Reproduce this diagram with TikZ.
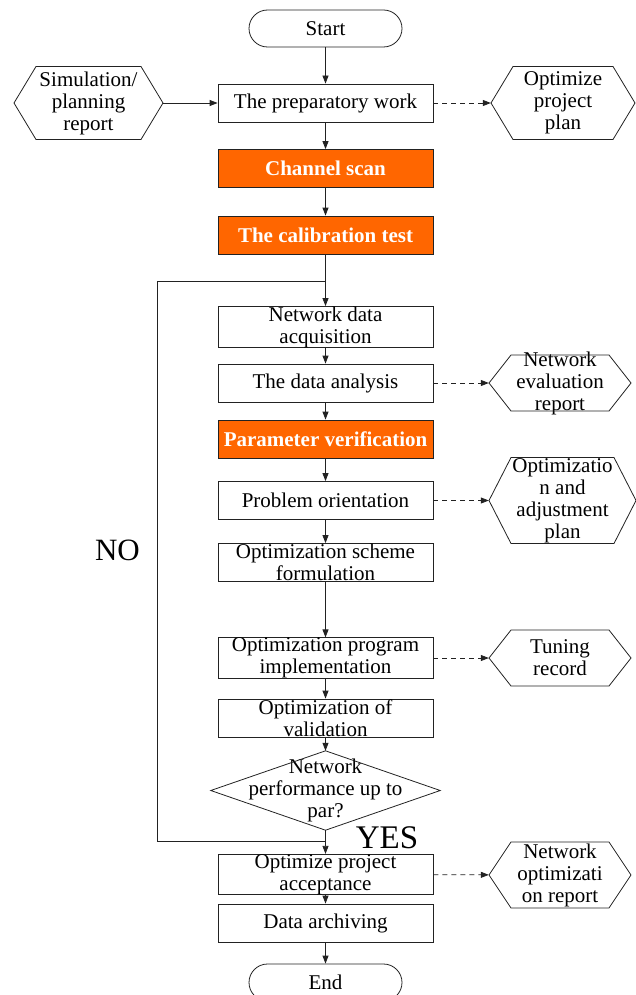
\documentclass[tikz,border=0pt]{standalone}
\usepackage{fontspec}
\setmainfont{Liberation Serif}
\usetikzlibrary{arrows.meta}
\definecolor{orng}{HTML}{FF6600}
\definecolor{ink}{HTML}{222222}
\newcommand\hexat[3]{\draw[edge] ([xshift=-#2/2]#1.center) -- ++(22,-#3/2) -- ++(#2-44,0) -- ++(22,#3/2) -- ++(-22,#3/2) -- ++(-#2+44,0) -- cycle;}
\begin{document}
\begin{tikzpicture}[x=1pt,y=-1pt,
  base/.style={inner sep=0pt, align=center, font=\fontsize{21}{22}\selectfont, text=black},
  edge/.style={draw=ink, line width=0.8pt},
  box/.style={base, edge, minimum width=215pt, minimum height=38pt, fill=white},
  hot/.style={box, fill=orng, text=white, font=\fontsize{21}{22}\selectfont\bfseries},
  term/.style={base, edge, minimum width=153pt, minimum height=37pt, rounded corners=18.5pt},
  ghost/.style={base},
  arr/.style={edge, -{Triangle[length=8pt,width=6pt]}},
  darr/.style={arr, dash pattern=on 5pt off 4pt},
  big/.style={inner sep=0pt, text=black}
]
\useasboundingbox (0,0) rectangle (636,995);
\clip (0,0) rectangle (636,995);
% main column
\node[term] (start) at (325.5,28.5) {Start};
\node[box] (prep) at (325.5,103) {The preparatory work};
\node[hot] (chan) at (325.5,168.5) {Channel scan};
\node[hot] (calib) at (325.5,235) {The calibration test};
\node[box] (acq) at (325.5,327) {Network data\\acquisition};
\node[box] (ana) at (325.5,383) {The data analysis};
\node[hot] (par) at (325.5,439) {Parameter verification};
\node[box] (prob) at (325.5,500.5) {Problem orientation};
\node[box] (form) at (325.5,562.5) {Optimization scheme\\formulation};
\node[box] (impl) at (325.5,658) {Optimization program\\implementation};
\node[box] (valid) at (325.5,718) {Optimization of\\validation};
\node[ghost, minimum width=229pt, minimum height=79pt] (dia) at (325.5,790.5) {Network\\performance up to\\par?};
\draw[edge] (dia.north) -- (dia.east) -- (dia.south) -- (dia.west) -- cycle;
\node[box] (acc) at (325.5,874.5) {Optimize project\\acceptance};
\node[box] (arch) at (325.5,923) {Data archiving};
\node[term] (end) at (325.5,982.5) {End};
% side hexagons
\node[ghost, minimum width=149pt, minimum height=73pt] (sim) at (88.5,103) {Simulation/\\planning\\report};
\node[ghost, minimum width=144pt, minimum height=73pt] (opp) at (563,103) {Optimize\\project\\plan};
\node[ghost, minimum width=142pt, minimum height=56pt] (eval) at (560,383) {Network\\evaluation\\report};
\node[ghost, minimum width=147pt, minimum height=86pt] (adj) at (562.5,500.5) {Optimizatio\\n and\\adjustment\\plan};
\node[ghost, minimum width=142pt, minimum height=56pt] (tune) at (560,658) {Tuning\\record};
\node[ghost, minimum width=142pt, minimum height=66pt] (rep) at (560,875) {Network\\optimizati\\on report};
\hexat{sim}{149}{73}
\hexat{opp}{144}{73}
\hexat{eval}{142}{56}
\hexat{adj}{147}{86}
\hexat{tune}{142}{56}
\hexat{rep}{142}{66}
% connectors
\draw[arr] (start) -- (prep);
\draw[arr] (sim) -- (prep);
\draw[darr] (prep) -- (opp);
\draw[arr] (prep) -- (chan);
\draw[arr] (chan) -- (calib);
\draw[arr] (calib) -- (acq);
\draw[arr] (acq) -- (ana);
\draw[darr] (ana) -- (eval);
\draw[arr] (ana) -- (par);
\draw[arr] (par) -- (prob);
\draw[darr] (prob) -- (adj);
\draw[arr] (prob) -- (form);
\draw[arr] (form) -- (impl);
\draw[darr] (impl) -- (tune);
\draw[arr] (impl) -- (valid);
\draw[arr] (valid) -- (dia.north);
\draw[arr] (dia.south) -- (acc);
\draw[darr] (acc) -- (rep);
\draw[arr] (acc) -- (arch);
\draw[arr] (arch) -- (end);
% NO loop
\coordinate (jb) at (325.5,841);
\coordinate (jt) at (325.5,281);
\coordinate (lb) at (157,841);
\draw[edge] (jb) -- (lb) |- (jt);
\node[big, font=\fontsize{31}{31}\selectfont] (no) at (117.5,550) {NO};
\node[big, font=\fontsize{33}{33}\selectfont] (yes) at (387,837.5) {YES};
\end{tikzpicture}
\end{document}
